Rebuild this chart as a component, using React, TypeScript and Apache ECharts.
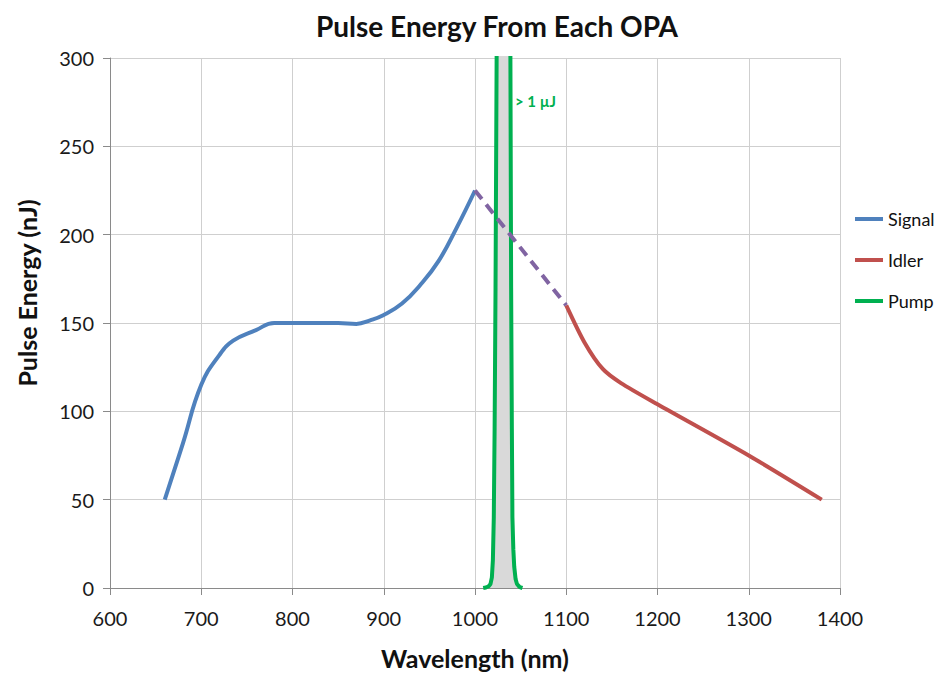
import React, { useEffect, useRef } from "react";
import * as echarts from "echarts";

const signalX = [660, 680, 700, 720, 735, 760, 780, 800, 850, 870, 885, 900, 920, 940, 960, 980, 1000];
const signalY = [50, 82, 115, 132, 140, 146, 150, 150, 150, 149.5, 151.5, 154.5, 161, 171.5, 185, 204, 225];
const bridgeX = [1000, 1100];
const bridgeY = [225, 160];
const idlerX = [1100, 1120, 1140, 1160, 1200, 1300, 1380];
const idlerY = [160, 139, 124, 116, 104, 75, 50];
const pumpX = [1009, 1012, 1015, 1017, 1018.5, 1019.6, 1020.6, 1021.5, 1022.5, 1023.7, 1024.5, 1038, 1038.8, 1039.6, 1040.4, 1041, 1042, 1043, 1044.5, 1046, 1049, 1052];
const pumpY = [0, 0.3, 1, 2.3, 6, 15.8, 40, 90, 170, 300, 1000, 1000, 300, 170, 90, 40, 22, 12, 5, 2.3, 0.5, 0];
const xTicks = [600, 700, 800, 900, 1000, 1100, 1200, 1300, 1400];
const yTicks = [0, 50, 100, 150, 200, 250, 300];

const zip = (xs: number[], ys: number[]) => xs.map((x, i) => [x, ys[i]]);

const FONT = "Lato, 'Open Sans', sans-serif";

export default function App() {
  const ref = useRef<HTMLDivElement>(null);
  useEffect(() => {
    if (!ref.current) return;
    const chart = echarts.init(ref.current, undefined, { renderer: "svg" });
    chart.setOption({
      animation: false,
      backgroundColor: "#ffffff",
      textStyle: { fontFamily: FONT },
      title: {
        text: "Pulse Energy From Each OPA",
        left: 492,
        textAlign: "center",
        top: 7,
        textStyle: { fontFamily: FONT, fontSize: 28, fontWeight: "bold", color: "#111" },
      },
      legend: {
        orient: "vertical",
        left: 850,
        top: 205,
        itemWidth: 28,
        itemHeight: 4,
        itemGap: 23,
        icon: "rect",
        data: ["Signal", "Idler", "Pump"],
        textStyle: { fontFamily: FONT, fontSize: 18, color: "#111" },
      },
      grid: { left: 110, right: 95, top: 58, bottom: 84 },
      xAxis: {
        type: "value",
        min: xTicks[0],
        max: xTicks[xTicks.length - 1],
        interval: 100,
        name: "Wavelength (nm)",
        nameLocation: "middle",
        nameGap: 57,
        nameTextStyle: { fontFamily: FONT, fontSize: 25, fontWeight: "bold", color: "#111" },
        axisLine: { show: true, lineStyle: { color: "#8a8a8a", width: 1 } },
        axisTick: { show: true, length: 7, lineStyle: { color: "#8a8a8a" } },
        axisLabel: { fontFamily: FONT, fontSize: 20, color: "#1a1a1a", margin: 20, formatter: (v: number) => String(v) },
        splitLine: { show: true, lineStyle: { color: "#cfcfcf", width: 1 } },
      },
      yAxis: {
        type: "value",
        min: yTicks[0],
        max: yTicks[yTicks.length - 1],
        interval: 50,
        axisLine: { show: true, lineStyle: { color: "#8a8a8a", width: 1 } },
        axisTick: { show: true, length: 7, lineStyle: { color: "#8a8a8a" } },
        axisLabel: { fontFamily: FONT, fontSize: 20, color: "#1a1a1a", margin: 16 },
        splitLine: { show: true, lineStyle: { color: "#cfcfcf", width: 1 } },
      },
      series: [
        {
          name: "Pump",
          type: "line",
          data: zip(pumpX, pumpY),
          showSymbol: false,
          smooth: false,
          clip: true,
          z: 3,
          lineStyle: { color: "#00B050", width: 4 },
          itemStyle: { color: "#00B050" },
          areaStyle: { color: "#d9d9d9", opacity: 1 },
        },
        {
          name: "Signal",
          type: "line",
          data: zip(signalX, signalY),
          showSymbol: false,
          smooth: 0.45,
          z: 4,
          lineStyle: { color: "#4F81BD", width: 4 },
          itemStyle: { color: "#4F81BD" },
        },
        {
          name: "Bridge",
          type: "line",
          data: zip(bridgeX, bridgeY),
          showSymbol: false,
          z: 5,
          lineStyle: { color: "#8064A2", width: 4, type: [11, 7] },
          itemStyle: { color: "#8064A2" },
        },
        {
          name: "Idler",
          type: "line",
          data: zip(idlerX, idlerY),
          showSymbol: false,
          smooth: 0.25,
          z: 4,
          lineStyle: { color: "#C0504D", width: 4 },
          itemStyle: { color: "#C0504D" },
        },
      ],
      graphic: [
        {
          type: "text",
          left: 515,
          top: 93,
          style: {
            text: "> 1 µJ",
            fill: "#00B050",
            fontFamily: FONT,
            fontSize: 15,
            fontWeight: "bold",
          },
        },
        {
          type: "text",
          x: 27,
          y: 293,
          rotation: Math.PI / 2,
          style: {
            text: "Pulse Energy (nJ)",
            fill: "#111",
            fontFamily: FONT,
            fontSize: 25,
            fontWeight: "bold",
            align: "center",
            verticalAlign: "middle",
          },
        },
      ],
    });
    return () => chart.dispose();
  }, []);
  return (
    <div
      ref={ref}
      style={{ position: "absolute", left: 0, top: 0, width: 935, height: 675 }}
    />
  );
}
